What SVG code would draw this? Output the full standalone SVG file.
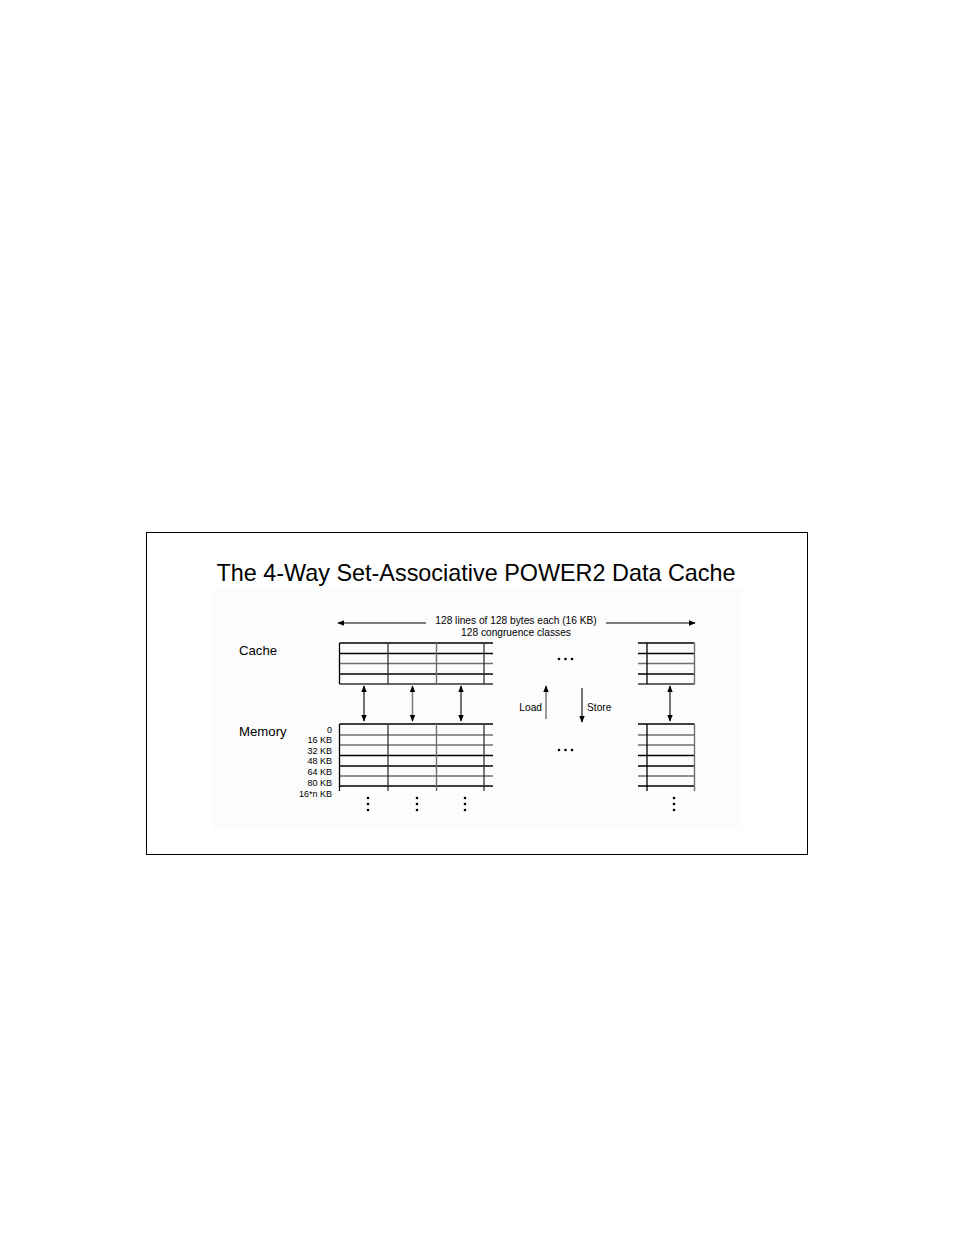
<svg xmlns="http://www.w3.org/2000/svg" width="954" height="1235" viewBox="0 0 954 1235">
<defs>
<style>
text{font-family:"Liberation Sans",Arial,sans-serif;fill:#000}
.title{font-size:23.4px}
.lbl{font-size:13.2px}
.sm{font-size:10.2px}
.tiny{font-size:9px}
.k{stroke:#000;stroke-width:1.3;fill:none}
.g{stroke:#6e6e6e;stroke-width:1.4;fill:none}
.d{stroke:#333;stroke-width:1.3;fill:none}
.arr{stroke:#000;stroke-width:1.1}
.arrg{stroke:#777;stroke-width:1.5}
</style>
<marker id="ah" viewBox="0 0 10 10" refX="9" refY="5" markerWidth="7" markerHeight="7" markerUnits="userSpaceOnUse" orient="auto-start-reverse">
<path d="M0,1 L10,5 L0,9 z" fill="#000"/>
</marker>
</defs>
<rect x="0" y="0" width="954" height="1235" fill="#fff"/>
<rect x="146.5" y="532.5" width="661" height="322" fill="#fff" stroke="#000" stroke-width="1"/>
<rect x="213" y="588" width="529" height="242" fill="#fcfcfc"/>
<text class="title" x="476" y="581" text-anchor="middle">The 4-Way Set-Associative POWER2 Data Cache</text>

<g id="header">
<text class="sm" x="516" y="623.5" text-anchor="middle">128 lines of 128 bytes each (16 KB)</text>
<text class="sm" x="516" y="635.5" text-anchor="middle">128 congruence classes</text>
</g>

<g id="cache-label"><text class="lbl" x="239" y="654.5">Cache</text></g>
<g id="memory-label"><text class="lbl" x="239" y="735.5">Memory</text></g>

<g id="cache-left">
<line class="k" x1="339.5" y1="643" x2="493" y2="643"/>
<line class="k" x1="339.5" y1="653.5" x2="493" y2="653.5"/>
<line class="g" x1="339.5" y1="663.5" x2="493" y2="663.5"/>
<line class="k" x1="339.5" y1="674" x2="493" y2="674"/>
<line class="d" x1="339.5" y1="684" x2="493" y2="684"/>
<line class="k" x1="339.5" y1="643" x2="339.5" y2="684"/>
<line class="d" x1="388" y1="643" x2="388" y2="684"/>
<line class="g" x1="436.5" y1="643" x2="436.5" y2="684"/>
<line class="d" x1="484" y1="643" x2="484" y2="684"/>
</g>

<g id="cache-right">
<line class="k" x1="638" y1="643" x2="694.5" y2="643"/>
<line class="k" x1="638" y1="653.5" x2="694.5" y2="653.5"/>
<line class="g" x1="638" y1="663.5" x2="694.5" y2="663.5"/>
<line class="k" x1="638" y1="674" x2="694.5" y2="674"/>
<line class="d" x1="638" y1="684" x2="694.5" y2="684"/>
<line class="k" x1="647" y1="643" x2="647" y2="684" stroke-width="1.7"/>
<line class="g" x1="694.5" y1="643" x2="694.5" y2="684"/>
</g>

<g id="memory-left">
<line class="k" x1="339.5" y1="724" x2="493" y2="724"/>
<line class="g" x1="339.5" y1="735" x2="493" y2="735"/>
<line class="g" x1="339.5" y1="745" x2="493" y2="745"/>
<line class="k" x1="339.5" y1="755.5" x2="493" y2="755.5"/>
<line class="k" x1="339.5" y1="766" x2="493" y2="766"/>
<line class="g" x1="339.5" y1="776" x2="493" y2="776"/>
<line class="k" x1="339.5" y1="786" x2="493" y2="786"/>
<line class="k" x1="339.5" y1="724" x2="339.5" y2="791"/>
<line class="d" x1="388" y1="724" x2="388" y2="791"/>
<line class="g" x1="436.5" y1="724" x2="436.5" y2="791"/>
<line class="d" x1="484" y1="724" x2="484" y2="791"/>
</g>

<g id="memory-right">
<line class="k" x1="638" y1="724" x2="694.5" y2="724"/>
<line class="g" x1="638" y1="735" x2="694.5" y2="735"/>
<line class="g" x1="638" y1="745" x2="694.5" y2="745"/>
<line class="k" x1="638" y1="755.5" x2="694.5" y2="755.5"/>
<line class="k" x1="638" y1="766" x2="694.5" y2="766"/>
<line class="g" x1="638" y1="776" x2="694.5" y2="776"/>
<line class="k" x1="638" y1="786" x2="694.5" y2="786"/>
<line class="k" x1="647" y1="724" x2="647" y2="791" stroke-width="1.7"/>
<line class="g" x1="694.5" y1="724" x2="694.5" y2="791"/>
</g>

<g id="address-labels">
<text class="tiny" x="332" y="732.5" text-anchor="end">0</text>
<text class="tiny" x="332" y="743" text-anchor="end">16 KB</text>
<text class="tiny" x="332" y="753.5" text-anchor="end">32 KB</text>
<text class="tiny" x="332" y="764" text-anchor="end">48 KB</text>
<text class="tiny" x="332" y="775" text-anchor="end">64 KB</text>
<text class="tiny" x="332" y="785.5" text-anchor="end">80 KB</text>
<text class="tiny" x="332" y="796.5" text-anchor="end">16*n KB</text>
</g>

<g id="ellipses" fill="#000">
<circle cx="559" cy="659" r="1.3"/><circle cx="565.5" cy="659" r="1.3"/><circle cx="572" cy="659" r="1.3"/>
<circle cx="559" cy="750" r="1.3"/><circle cx="565.5" cy="750" r="1.3"/><circle cx="572" cy="750" r="1.3"/>
<circle cx="368" cy="798" r="1.3"/><circle cx="368" cy="804" r="1.3"/><circle cx="368" cy="810" r="1.3"/>
<circle cx="417" cy="798" r="1.3"/><circle cx="417" cy="804" r="1.3"/><circle cx="417" cy="810" r="1.3"/>
<circle cx="465" cy="798" r="1.3"/><circle cx="465" cy="804" r="1.3"/><circle cx="465" cy="810" r="1.3"/>
<circle cx="674" cy="798" r="1.3"/><circle cx="674" cy="804" r="1.3"/><circle cx="674" cy="810" r="1.3"/>
</g>

<g id="connectors">
<line class="arr" x1="426" y1="623" x2="338" y2="623" marker-end="url(#ah)"/>
<line class="arr" x1="606" y1="623" x2="695" y2="623" marker-end="url(#ah)"/>
<line class="arr" x1="364" y1="686" x2="364" y2="721" marker-start="url(#ah)" marker-end="url(#ah)"/>
<line class="arrg" x1="412.5" y1="686" x2="412.5" y2="721" marker-start="url(#ah)" marker-end="url(#ah)"/>
<line class="arr" x1="461" y1="686" x2="461" y2="721" marker-start="url(#ah)" marker-end="url(#ah)"/>
<line class="arr" x1="670" y1="686" x2="670" y2="721" marker-start="url(#ah)" marker-end="url(#ah)"/>
<line class="arrg" x1="546" y1="719" x2="546" y2="686" marker-end="url(#ah)"/>
<line class="arr" x1="582" y1="688" x2="582" y2="722" marker-end="url(#ah)"/>
</g>
<g id="load-store-labels">
<text class="sm" x="542" y="710.5" text-anchor="end">Load</text>
<text class="sm" x="587" y="710.5">Store</text>
</g>
</svg>
